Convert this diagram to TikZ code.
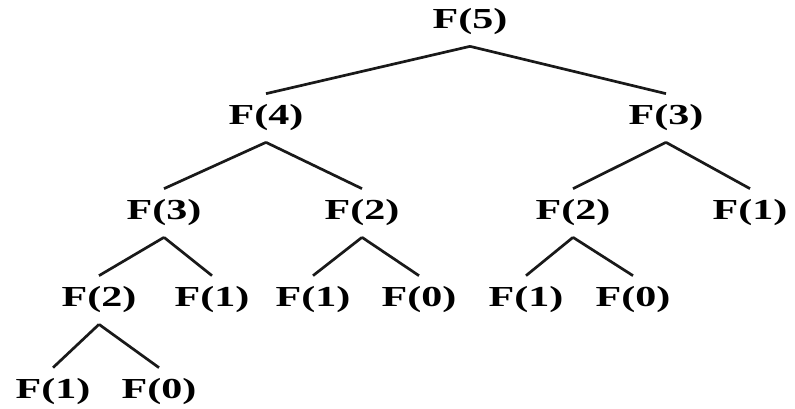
\documentclass[tikz,border=0pt]{standalone}
\usepackage{fontspec}
\setmainfont{Liberation Serif}
\tikzset{
  fib call/.style={font=\fontsize{29}{29}\selectfont\bfseries,xscale=1.45,
    inner xsep=0pt,inner ysep=11pt},
  fib edge/.style={line width=2.7pt,draw=black!90}
}

\begin{document}
\begin{tikzpicture}[x=1pt,y=-1pt]
  \useasboundingbox (0,0) rectangle (795,408);
  % level 0 and 1
  \node[fib call] (f5) at (470,22) {F(5)};
  \node[fib call] (f4) at (266,118) {F(4)};
  \node[fib call] (f3r) at (666,118) {F(3)};
  % level 2
  \node[fib call] (f3l) at (164,213) {F(3)};
  \node[fib call] (f2m) at (362,213) {F(2)};
  \node[fib call] (f2r) at (573,213) {F(2)};
  \node[fib call] (f1r) at (750,213) {F(1)};
  % level 3
  \node[fib call] (f2l) at (99,300) {F(2)};
  \node[fib call] (f1a) at (212,300) {F(1)};
  \node[fib call] (f1b) at (313,300) {F(1)};
  \node[fib call] (f0b) at (419,300) {F(0)};
  \node[fib call] (f1c) at (526,300) {F(1)};
  \node[fib call] (f0c) at (633,300) {F(0)};
  % level 4
  \node[fib call] (f1d) at (53,392) {F(1)};
  \node[fib call] (f0d) at (159,392) {F(0)};

  \foreach \p/\c in {f5/f4,f5/f3r,f4/f3l,f4/f2m,f3r/f2r,f3r/f1r,
      f3l/f2l,f3l/f1a,f2m/f1b,f2m/f0b,f2r/f1c,f2r/f0c,f2l/f1d,f2l/f0d}
    \draw[fib edge] (\p.south) -- (\c.north);
\end{tikzpicture}
\end{document}
